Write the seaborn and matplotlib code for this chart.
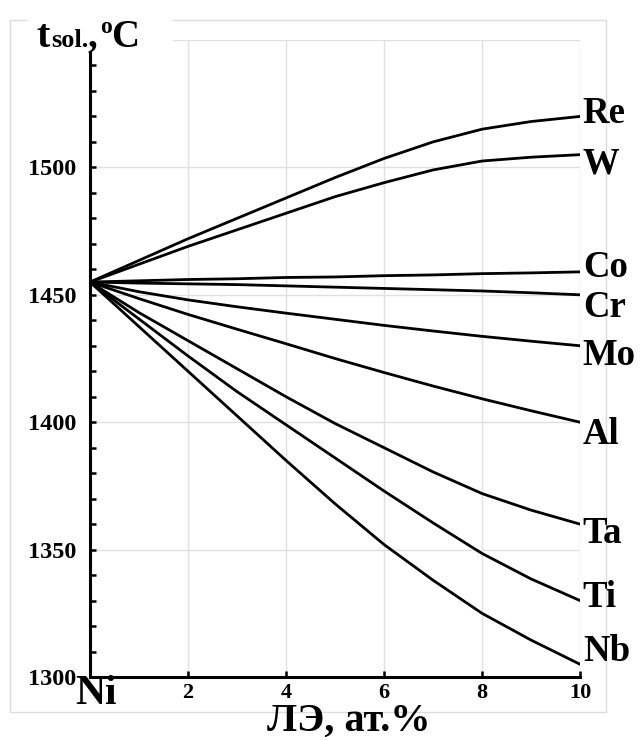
import numpy as np
import pandas as pd
import matplotlib
matplotlib.use("Agg")
import matplotlib.pyplot as plt
from matplotlib.patches import Rectangle
import seaborn as sns

# alloying-element content, at.%
content = [0, 1, 2, 3, 4, 5, 6, 7, 8, 9, 10]

# solidus temperature of Ni with each alloying element, °C
t_re = [1455, 1463.5, 1472, 1480, 1488, 1496, 1503.5, 1510, 1515, 1518, 1520]
t_w = [1455, 1462, 1469, 1475.5, 1482, 1488.5, 1494, 1499, 1502.5, 1504, 1505]
t_co = [1455, 1455.5, 1456, 1456.3, 1456.8, 1457, 1457.5, 1457.8, 1458.3, 1458.6, 1459]
t_cr = [1455, 1454.6, 1454.3, 1454, 1453.5, 1453, 1452.5, 1452, 1451.5, 1450.8, 1450]
t_mo = [1455, 1451.2, 1448, 1445.3, 1442.8, 1440.4, 1438, 1435.8, 1433.7, 1431.8, 1430]
t_al = [1455, 1448.5, 1442.3, 1436.5, 1430.8, 1425, 1419.5, 1414.2, 1409.2, 1404.5, 1400]
t_ta = [1455, 1443, 1432, 1421, 1410, 1399.5, 1390, 1380.5, 1372, 1365.5, 1360]
t_ti = [1455, 1440.5, 1426, 1412, 1399, 1386, 1373, 1360.5, 1348.5, 1338.5, 1330]
t_nb = [1455, 1437.5, 1420, 1402.5, 1385, 1368, 1352, 1338, 1325, 1314.5, 1305]

elements = ["Re", "W", "Co", "Cr", "Mo", "Al", "Ta", "Ti", "Nb"]
series = [t_re, t_w, t_co, t_cr, t_mo, t_al, t_ta, t_ti, t_nb]

x_ticks = [0, 2, 4, 6, 8, 10]
x_tick_labels = ["", "2", "4", "6", "8", "10"]
y_ticks = [1300, 1350, 1400, 1450, 1500]
y_tick_labels = ["1300", "1350", "1400", "1450", "1500"]

# vertical nudges of the end labels, in points
label_dy = [2, -6.5, 3.5, -9, -7, -8.5, -7, 2, 9.5]

df = pd.DataFrame(
    [(x, t, el) for el, ys in zip(elements, series) for x, t in zip(content, ys)],
    columns=["content", "t_sol", "element"],
)

sns.set_style("white")
SERIF = ["Liberation Serif", "DejaVu Serif"]
plt.rcParams["font.family"] = SERIF
plt.rcParams["font.weight"] = "bold"
plt.rcParams["text.color"] = "black"
plt.rcParams["xtick.color"] = "black"
plt.rcParams["ytick.color"] = "black"
plt.rcParams["xtick.labelcolor"] = "black"
plt.rcParams["ytick.labelcolor"] = "black"

W, H = 640, 740
fig = plt.figure(figsize=(W / 100, H / 100), dpi=100)
fig.patch.set_facecolor("white")

# outer chart frame
fig.add_artist(Rectangle((10 / W, 1 - 712 / H), 596 / W, 692 / H,
                         transform=fig.transFigure, fill=False,
                         edgecolor="#dcdcdc", lw=1.0, zorder=0))

ax = fig.add_axes([90 / W, 1 - 677 / H, 490 / W, 637 / H])
ax.set_facecolor("none")

sns.lineplot(data=df, x="content", y="t_sol", hue="element",
             palette={el: "black" for el in elements}, estimator=None,
             legend=False, lw=2.0, ax=ax, zorder=3,
             solid_joinstyle="round", solid_capstyle="round")

ax.set_xlim(0, 10)
ax.set_ylim(1300, 1550)

# light grid
for xv in x_ticks[1:]:
    ax.axvline(xv, color="#e0e0e0", lw=1.0, zorder=0)
for yv in y_ticks[1:] + [1550]:
    ax.axhline(yv, color="#e0e0e0", lw=1.0, zorder=0)

for side in ("top", "right"):
    ax.spines[side].set_visible(False)
for side in ("left", "bottom"):
    ax.spines[side].set_linewidth(2.2)
    ax.spines[side].set_color("black")
ax.spines["left"].set_bounds(1300, 1545)

ax.set_xticks(x_ticks)
ax.set_xticklabels(x_tick_labels, fontsize=16, fontweight="bold")
ax.set_yticks(y_ticks)
ax.set_yticklabels(y_tick_labels, fontsize=17.5, fontweight="bold")
ax.set_yticks([v for v in range(1310, 1545, 10) if v % 50 != 0 or v > 1500], minor=True)
ax.tick_params(axis="both", which="both", direction="in", length=4.5, width=1.8,
               color="black", left=True, bottom=True, right=False, top=False)
ax.tick_params(axis="x", pad=4)
ax.tick_params(axis="y", pad=10)
ax.set_xlabel("")
ax.set_ylabel("")

# element labels at the line ends
for el, ys, dy in zip(elements, series, label_dy):
    ax.annotate(el, xy=(content[-1], ys[-1]), xytext=(2, dy),
                textcoords="offset points", ha="left", va="center",
                fontsize=26.5, fontweight="bold", annotation_clip=False)

# pure nickel at the origin
ax.annotate("Ni", xy=(0, 0), xycoords=("data", "axes fraction"),
            xytext=(4, -12), textcoords="offset points", ha="center", va="center",
            fontsize=30, fontweight="bold", annotation_clip=False)

# x-axis title
fig.text(349 / W, 1 - 721 / H, "ЛЭ, ат.%", ha="center", va="center",
         fontsize=29, fontweight="bold")

# y-axis title on a white patch
fig.add_artist(Rectangle((27 / W, 1 - 50 / H), 146 / W, 42 / H,
                         transform=fig.transFigure, facecolor="white",
                         edgecolor="none", zorder=5))
base = 1 - 47 / H
fig.text(36 / W, base, "t", ha="left", va="baseline", fontsize=29,
         fontweight="bold", zorder=6)
fig.text(51 / W, base, "sol.", ha="left", va="baseline", fontsize=19,
         fontweight="bold", zorder=6)
fig.text(87 / W, base, ",", ha="left", va="baseline", fontsize=28,
         fontweight="bold", zorder=6)
fig.text(100 / W, 1 - 33 / H, "o", ha="left", va="baseline", fontsize=17,
         fontweight="bold", zorder=6)
fig.text(111 / W, base, "C", ha="left", va="baseline", fontsize=28,
         fontweight="bold", zorder=6)

fig.savefig("out.png", dpi=100, facecolor="white")
